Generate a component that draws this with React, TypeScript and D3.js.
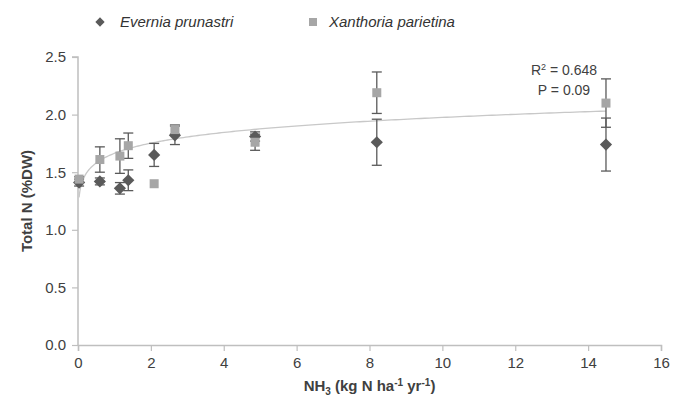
import { useEffect, useRef } from 'react';
import * as d3 from 'd3';

// NH3 deposition (kg N ha-1 yr-1) at each site
const nh3 = [0.03, 0.6, 1.15, 1.38, 2.09, 2.66, 4.86, 8.2, 14.49];

// Total N (%DW) with error bars
const everniaMean = [1.41, 1.42, 1.36, 1.43, 1.65, 1.82, 1.81, 1.76, 1.74];
const everniaErr = [0.03, 0.03, 0.05, 0.09, 0.10, 0.08, 0.04, 0.20, 0.23];
const xanthoriaMean = [1.44, 1.61, 1.64, 1.73, 1.40, 1.87, 1.76, 2.19, 2.10];
const xanthoriaErr = [0.02, 0.11, 0.15, 0.11, 0.00, 0.04, 0.07, 0.18, 0.21];

const xTicks = [0, 2, 4, 6, 8, 10, 12, 14, 16];
const yTicks = [0, 0.5, 1.0, 1.5, 2.0, 2.5];

// power trendline y = a * x^b
const fitA = 1.664;
const fitB = 0.0745;

const width = 677;
const height = 404;
const font = '"Liberation Sans", Arial, sans-serif';

const App = () => {
  const svgRef = useRef<SVGSVGElement>(null);

  useEffect(() => {
    if (!svgRef.current) return;
    const svg = d3.select(svgRef.current);
    svg.selectAll('*').remove();

    const x = d3.scaleLinear().domain([0, 16]).range([78, 661]);
    const y = d3.scaleLinear().domain([0, 2.5]).range([345, 57]);
    const axisColor = '#bfbfbf';

    // axes
    const xAxis = svg.append('g')
      .attr('transform', `translate(0,${y(0)})`)
      .call(d3.axisBottom(x).tickValues(xTicks).tickSize(6).tickPadding(6).tickFormat(d3.format('d')));
    const yAxis = svg.append('g')
      .attr('transform', `translate(${x(0)},0)`)
      .call(d3.axisLeft(y).tickValues(yTicks).tickSize(6).tickPadding(6).tickFormat(d3.format('.1f')));

    [xAxis, yAxis].forEach(ax => {
      ax.select('.domain').attr('stroke', axisColor).attr('stroke-width', 1.5);
      ax.selectAll('.tick line').attr('stroke', axisColor).attr('stroke-width', 1.2);
      ax.selectAll('.tick text')
        .style('font-family', font)
        .style('font-size', '15px')
        .attr('fill', '#404040');
    });
    yAxis.select('.domain').attr('d', `M-6,${y(2.5)}H0V${y(0)}`);

    // axis titles
    svg.append('text')
      .attr('transform', `translate(32,${(y(0) + y(2.5)) / 2}) rotate(-90)`)
      .attr('text-anchor', 'middle')
      .style('font-family', font)
      .style('font-size', '15px')
      .style('font-weight', 'bold')
      .attr('fill', '#404040')
      .text('Total N (%DW)');

    const xt = svg.append('text')
      .attr('x', (x(0) + x(16)) / 2)
      .attr('y', 391)
      .attr('text-anchor', 'middle')
      .style('font-family', font)
      .style('font-size', '15px')
      .style('font-weight', 'bold')
      .attr('fill', '#404040');
    xt.append('tspan').text('NH');
    xt.append('tspan').attr('font-size', '10px').attr('dy', 4).text('3');
    xt.append('tspan').attr('dy', -4).text(' (kg N ha');
    xt.append('tspan').attr('font-size', '10px').attr('dy', -5).text('-1');
    xt.append('tspan').attr('dy', 5).text(' yr');
    xt.append('tspan').attr('font-size', '10px').attr('dy', -5).text('-1');
    xt.append('tspan').attr('dy', 5).text(')');

    // trendline
    const ext = d3.extent(nh3) as [number, number];
    const xs = d3.range(0, 201).map(i => ext[0] + (ext[1] - ext[0]) * Math.pow(i / 200, 2));
    const line = d3.line<number>()
      .x(d => x(d))
      .y(d => y(fitA * Math.pow(d, fitB)));
    svg.append('path')
      .datum(xs)
      .attr('fill', 'none')
      .attr('stroke', '#c8c8c8')
      .attr('stroke-width', 1.3)
      .attr('d', line);

    const errColor = '#5a5a5a';
    const drawErr = (means: number[], errs: number[]) => {
      const g = svg.append('g');
      means.forEach((m, i) => {
        const e = errs[i];
        if (e <= 0) return;
        const cx = x(nh3[i]);
        g.append('line').attr('x1', cx).attr('x2', cx).attr('y1', y(m - e)).attr('y2', y(m + e))
          .attr('stroke', errColor).attr('stroke-width', 1.3);
        [m - e, m + e].forEach(v => {
          g.append('line').attr('x1', cx - 5).attr('x2', cx + 5).attr('y1', y(v)).attr('y2', y(v))
            .attr('stroke', errColor).attr('stroke-width', 1.3);
        });
      });
    };
    drawErr(everniaMean, everniaErr);
    drawErr(xanthoriaMean, xanthoriaErr);

    const diamond = d3.symbol().type(d3.symbolDiamond2).size(95);
    svg.append('g').selectAll('path')
      .data(everniaMean)
      .join('path')
      .attr('transform', (d, i) => `translate(${x(nh3[i])},${y(d)})`)
      .attr('d', diamond)
      .attr('fill', '#5a5a5a');

    svg.append('g').selectAll('rect')
      .data(xanthoriaMean)
      .join('rect')
      .attr('x', (d, i) => x(nh3[i]) - 4.5)
      .attr('y', d => y(d) - 4.5)
      .attr('width', 9)
      .attr('height', 9)
      .attr('fill', '#a6a6a6');

    // legend
    svg.append('path')
      .attr('transform', 'translate(100,22)')
      .attr('d', d3.symbol().type(d3.symbolDiamond2).size(55)())
      .attr('fill', '#5a5a5a');
    svg.append('rect').attr('x', 309).attr('y', 18).attr('width', 8).attr('height', 8).attr('fill', '#a6a6a6');
    [['Evernia prunastri', 120], ['Xanthoria parietina', 329]].forEach(([t, lx]) => {
      svg.append('text')
        .attr('x', lx as number)
        .attr('y', 27)
        .style('font-family', font)
        .style('font-size', '15px')
        .style('font-style', 'italic')
        .attr('fill', '#333')
        .text(t as string);
    });

    // stats annotation
    const ann = svg.append('g')
      .style('font-family', font)
      .style('font-size', '14px')
      .attr('fill', '#404040')
      .attr('text-anchor', 'middle');
    const r = ann.append('text').attr('x', 564).attr('y', 75);
    r.append('tspan').text('R');
    r.append('tspan').attr('font-size', '9px').attr('dy', -5).text('2');
    r.append('tspan').attr('dy', 5).text(' = 0.648');
    ann.append('text').attr('x', 564).attr('y', 95).text('P = 0.09');
  }, []);

  return (
    <svg
      ref={svgRef}
      width={width}
      height={height}
      style={{ position: 'absolute', left: 0, top: 0, background: '#fff' }}
    />
  );
};

export default App;
